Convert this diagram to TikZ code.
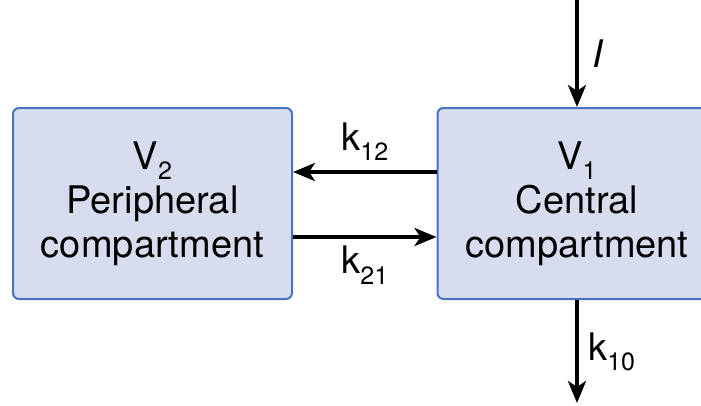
\documentclass[tikz,border=0pt]{standalone}
\usepackage{fontspec}
\setmainfont{TeX Gyre Heros}
\usetikzlibrary{arrows.meta,positioning}
\definecolor{boxfill}{HTML}{D8DCEF}
\definecolor{boxline}{HTML}{4A72C0}
\newcommand\lowsub[1]{\raisebox{-0.27em}{\fontsize{25}{25}\selectfont #1}}
\tikzset{
  comp/.style={draw=boxline, fill=boxfill, line width=2pt, rounded corners=6pt,
    minimum width=279pt, minimum height=191pt, align=center,
    font=\fontsize{38}{44}\selectfont},
  flow/.style={-{Stealth[length=22pt,width=18pt,inset=6pt]}, line width=4.5pt},
  rate/.style={inner sep=1pt, font=\fontsize{38}{44}\selectfont}
}

\begin{document}
\begin{tikzpicture}[x=1pt,y=-1pt]
  \clip (0,0) rectangle (701,405);
  \node[comp] (peri) at (152.5,203.5) {V\lowsub{2}\\Peripheral\\compartment};
  \node[comp] (cent) at (577,203.5) {V\lowsub{1}\\Central\\compartment};
  % dose in, elimination out
  \coordinate (dose) at (577,0);
  \coordinate (elim) at (577,403);
  \draw[flow] (dose) -- (cent.north)
    node[rate, midway, right=12pt] (ilab) {\itshape I};
  \draw[flow] (cent.south) -- (elim)
    node[rate, midway, right=8pt] (k10lab) {k\lowsub{10}};
  % exchange between compartments
  \draw[flow] ([yshift=31.5pt]cent.west) -- ([yshift=31.5pt]peri.east)
    node[rate, midway, above=8pt] (k12lab) {k\lowsub{12}};
  \draw[flow] ([yshift=-33.5pt]peri.east) -- ([yshift=-33.5pt]cent.west)
    node[rate, midway, below=6pt] (k21lab) {k\lowsub{21}};
\end{tikzpicture}
\end{document}
